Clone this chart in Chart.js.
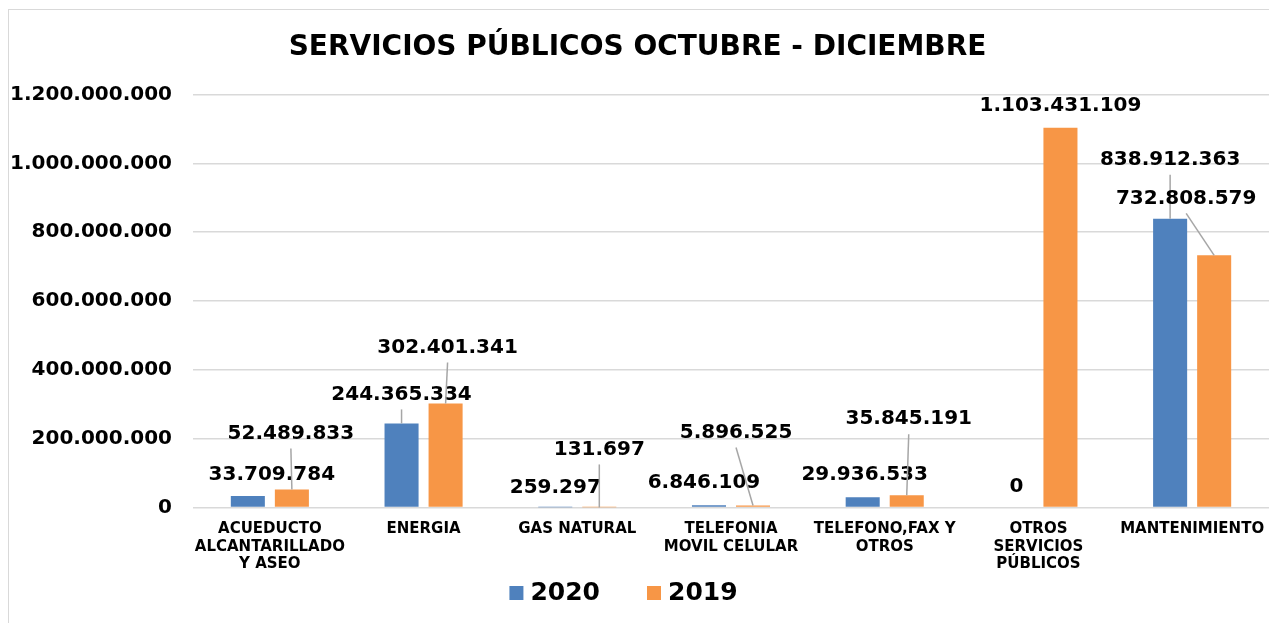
<!DOCTYPE html>
<html>
<head>
<meta charset="utf-8">
<script src="https://cdn.jsdelivr.net/npm/chart.js@4"></script>
<style>
  html, body { margin: 0; padding: 0; background: #fff; }
  canvas { display: block; }
</style>
</head>
<body>
<canvas id="myChart" width="1269" height="623"></canvas>
<script>
// Datos
const categorias = [
  ["ACUEDUCTO", "ALCANTARILLADO", "Y ASEO"],
  ["ENERGIA"],
  ["GAS NATURAL"],
  ["TELEFONIA", "MOVIL CELULAR"],
  ["TELEFONO,FAX Y", "OTROS"],
  ["OTROS", "SERVICIOS", "PÚBLICOS"],
  ["MANTENIMIENTO"],
];
const series = ["2020", "2019"];
const valores2020 = [33709784, 244365334, 259297, 6846109, 29936533, 0, 838912363];
const valores2019 = [52489833, 302401341, 131697, 5896525, 35845191, 1103431109, 732808579];
const colores = ["#4f81bd", "#f79646"];

// desplazamiento de las etiquetas (px) respecto a la parte alta de cada barra
const offsets2020 = [[24, -21], [0, -29], [0, -20], [-5, -22], [2, -22], [0, -21], [0, -59]];
const offsets2019 = [[-1, -56], [2, -56], [0, -58], [-17, -73], [2, -76], [0, -22], [-28, -57]];

const fuente = '"DejaVu Sans", Verdana, sans-serif';

function formato(v) {
  return String(v).replace(/\B(?=(\d{3})+(?!\d))/g, ".");
}

const marco = {
  id: "marco",
  beforeDraw(chart) {
    const ctx = chart.ctx;
    ctx.save();
    ctx.fillStyle = "#fff";
    ctx.fillRect(0, 0, chart.width, chart.height);
    ctx.strokeStyle = "#d9d9d9";
    ctx.lineWidth = 1;
    ctx.strokeRect(8.5, 9.5, chart.width + 10, chart.height + 10);
    ctx.restore();
  },
};

const etiquetas = {
  id: "etiquetas",
  afterDatasetsDraw(chart) {
    const ctx = chart.ctx;
    const offsets = [offsets2020, offsets2019];
    ctx.save();
    ctx.font = "bold 20px " + fuente;
    ctx.textAlign = "center";
    ctx.textBaseline = "middle";
    chart.data.datasets.forEach((ds, di) => {
      const meta = chart.getDatasetMeta(di);
      meta.data.forEach((bar, i) => {
        const [dx, dy] = offsets[di][i];
        const lx = bar.x + dx;
        const ly = bar.y + dy;
        if (dy < -25) {
          ctx.strokeStyle = "#a6a6a6";
          ctx.lineWidth = 1.5;
          ctx.beginPath();
          ctx.moveTo(lx, ly + 15);
          ctx.lineTo(bar.x, bar.y);
          ctx.stroke();
        }
        ctx.fillStyle = "#000";
        ctx.fillText(formato(ds.data[i]), lx, ly);
      });
    });
    ctx.restore();
  },
};

// leyenda abajo, cuadro + texto
const leyenda = {
  id: "leyenda",
  afterDraw(chart) {
    const ctx = chart.ctx;
    const box = 14, gap = 7, sep = 47, y = 593;
    ctx.save();
    ctx.font = "bold 25px " + fuente;
    ctx.textBaseline = "middle";
    ctx.textAlign = "left";
    const items = chart.data.datasets.map((ds) => ({
      text: ds.label,
      color: ds.backgroundColor,
      w: box + gap + ctx.measureText(ds.label).width,
    }));
    const total = items.reduce((a, it) => a + it.w, 0) + sep * (items.length - 1);
    let x = chart.width / 2 - 11 - total / 2;
    items.forEach((it) => {
      ctx.fillStyle = it.color;
      ctx.fillRect(x, y - box / 2, box, box);
      ctx.fillStyle = "#000";
      ctx.fillText(it.text, x + box + gap, y);
      x += it.w + sep;
    });
    ctx.restore();
  },
};

new Chart(document.getElementById("myChart").getContext("2d"), {
  type: "bar",
  data: {
    labels: categorias,
    datasets: [
      { label: series[0], data: valores2020, backgroundColor: colores[0] },
      { label: series[1], data: valores2019, backgroundColor: colores[1] },
    ],
  },
  options: {
    responsive: false,
    animation: false,
    devicePixelRatio: 1,
    layout: { padding: { left: 0, right: -6, top: 0, bottom: 37 } },
    datasets: {
      bar: { categoryPercentage: 0.573, barPercentage: 0.773, borderWidth: 0 },
    },
    scales: {
      x: {
        grid: { display: false, drawTicks: false },
        border: { display: false },
        ticks: {
          color: "#000",
          maxRotation: 0,
          autoSkip: false,
          padding: 13,
          font: { family: fuente, size: 15, weight: "bold", lineHeight: 1.167 },
        },
        afterFit: (scale) => {
          scale.paddingLeft = 0;
          scale.paddingRight = 0;
        },
      },
      y: {
        min: 0,
        max: 1200000000,
        grid: { color: "#d9d9d9", lineWidth: 1.5, drawTicks: false },
        border: { display: false },
        ticks: {
          stepSize: 200000000,
          color: "#000",
          padding: 21,
          font: { family: fuente, size: 20, weight: "bold" },
          callback: (v) => formato(v),
        },
        afterFit: (scale) => { scale.width = 193; },
      },
    },
    plugins: {
      title: {
        display: true,
        text: "SERVICIOS PÚBLICOS OCTUBRE - DICIEMBRE",
        color: "#000",
        font: { family: fuente, size: 28, weight: "bold", lineHeight: 1.2 },
        padding: { top: 31, bottom: 30 },
      },
      legend: { display: false },
      tooltip: { enabled: false },
    },
  },
  plugins: [marco, etiquetas, leyenda],
});
</script>
</body>
</html>
